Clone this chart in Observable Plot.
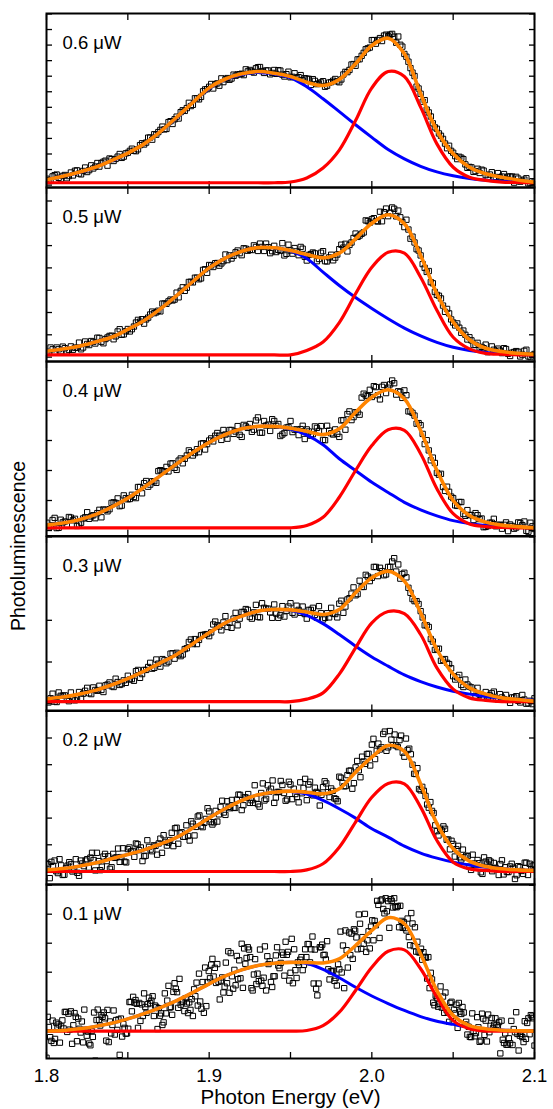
<!DOCTYPE html>
<html><head><meta charset="utf-8">
<script src="https://cdn.jsdelivr.net/npm/d3@7"></script>
<script src="https://cdn.jsdelivr.net/npm/@observablehq/plot@0.6"></script>
<style>
body{margin:0;background:#fff;}
#chart{position:relative;width:553px;height:1109px;overflow:hidden;font-family:"Liberation Sans",Arial,Helvetica,sans-serif;}
.panel{position:absolute;left:0;}
</style></head><body><div id="chart"></div>
<script>
// ---------- data ----------
const powerLabels = ["0.6 μW","0.5 μW","0.4 μW","0.3 μW","0.2 μW","0.1 μW"];
const curveEnergies = [1.80,1.81,1.82,1.83,1.84,1.85,1.86,1.87,1.88,1.89,1.90,1.91,1.92,1.93,1.94,1.95,1.96,1.97,1.98,1.99,2.00,2.01,2.02,2.03,2.04,2.05,2.06,2.07,2.08,2.09,2.10];
const xTicks = [1.8,1.85,1.9,1.95,2.0,2.05,2.1];
const xTickLabels = [1.8,1.9,2.0,2.1];

// broad (blue) component
const blue06 = [0.33,0.57,0.81,1.15,1.55,2.06,2.64,3.44,4.34,5.31,6.21,6.79,7.11,7.24,7.14,6.90,6.32,5.55,4.72,3.88,3.07,2.29,1.69,1.21,0.85,0.60,0.42,0.31,0.25,0.21,0.17];
const blue05 = [0.26,0.36,0.49,0.68,0.89,1.24,1.64,2.16,2.76,3.39,4.00,4.44,4.75,4.91,4.90,4.76,4.42,3.81,3.21,2.67,2.18,1.72,1.30,0.95,0.66,0.44,0.30,0.21,0.16,0.13,0.10];
const blue04 = [0.18,0.25,0.36,0.53,0.78,1.08,1.44,1.83,2.22,2.60,2.94,3.20,3.39,3.47,3.47,3.38,3.18,2.86,2.39,2.00,1.61,1.27,0.94,0.69,0.49,0.33,0.23,0.17,0.13,0.11,0.10];
const blue03 = [0.12,0.16,0.23,0.32,0.45,0.60,0.78,0.98,1.18,1.44,1.70,1.94,2.10,2.22,2.26,2.24,2.12,1.92,1.66,1.38,1.12,0.90,0.69,0.53,0.40,0.30,0.23,0.17,0.13,0.10,0.08];
const blue02 = [0.06,0.11,0.20,0.32,0.48,0.64,0.81,1.03,1.28,1.63,2.01,2.36,2.66,2.87,2.97,3.00,2.90,2.66,2.35,2.00,1.60,1.29,0.95,0.69,0.50,0.35,0.24,0.16,0.11,0.07,0.05];
const blue01 = [-0.03,-0.01,0.05,0.13,0.24,0.39,0.57,0.78,1.02,1.30,1.60,1.87,2.08,2.23,2.31,2.34,2.30,2.10,1.81,1.48,1.18,0.92,0.68,0.47,0.31,0.20,0.10,0.05,0.01,-0.01,-0.02];

// narrow (red) component
const red06 = [0.15,0.15,0.15,0.15,0.15,0.15,0.15,0.15,0.15,0.15,0.15,0.15,0.15,0.15,0.15,0.20,0.46,1.10,2.25,4.15,6.25,7.30,6.98,5.01,2.65,1.15,0.51,0.30,0.19,0.17,0.15];
const red05 = [0.10,0.10,0.10,0.10,0.10,0.10,0.10,0.10,0.10,0.10,0.10,0.10,0.10,0.10,0.10,0.10,0.30,0.68,1.55,2.84,4.03,4.70,4.66,3.58,2.10,0.89,0.37,0.17,0.13,0.10,0.10];
const red04 = [0.09,0.09,0.09,0.09,0.09,0.09,0.09,0.09,0.09,0.09,0.09,0.09,0.09,0.09,0.09,0.09,0.17,0.44,1.11,2.00,2.83,3.36,3.34,2.56,1.39,0.56,0.22,0.13,0.10,0.09,0.09];
const red03 = [0.05,0.05,0.05,0.05,0.05,0.05,0.05,0.05,0.05,0.05,0.05,0.05,0.05,0.05,0.05,0.05,0.11,0.26,0.71,1.34,1.94,2.21,2.16,1.66,0.86,0.35,0.14,0.08,0.05,0.05,0.05];
const red02 = [0.00,0.00,0.00,0.00,0.00,0.00,0.00,0.00,0.00,0.00,0.00,0.00,0.00,0.00,0.00,0.00,0.06,0.29,0.91,1.85,2.78,3.30,3.28,2.41,1.16,0.35,0.10,0.04,0.00,0.00,0.00];
const red01 = [-0.03,-0.03,-0.03,-0.03,-0.03,-0.03,-0.03,-0.03,-0.03,-0.03,-0.03,-0.03,-0.03,-0.03,-0.03,-0.03,-0.01,0.16,0.62,1.37,2.17,2.72,2.77,2.12,1.14,0.33,0.05,-0.03,-0.03,-0.03,-0.03];

// total fit (orange)
const orange06 = [0.34,0.57,0.83,1.15,1.58,2.06,2.65,3.44,4.36,5.31,6.25,6.82,7.15,7.30,7.19,6.98,6.61,6.40,6.79,7.80,8.97,9.44,8.44,5.87,3.51,2.01,1.15,0.73,0.51,0.33,0.19];
const orange05 = [0.26,0.36,0.49,0.68,0.89,1.24,1.64,2.16,2.76,3.39,4.00,4.44,4.75,4.91,4.90,4.78,4.60,4.45,4.66,5.30,6.00,6.38,5.98,4.56,2.84,1.57,0.78,0.40,0.25,0.17,0.12];
const orange04 = [0.18,0.25,0.36,0.53,0.78,1.08,1.44,1.83,2.22,2.60,2.94,3.20,3.39,3.47,3.47,3.41,3.31,3.20,3.39,3.94,4.44,4.69,4.39,3.33,2.00,1.00,0.50,0.28,0.18,0.13,0.09];
const orange03 = [0.12,0.16,0.23,0.32,0.45,0.60,0.78,0.98,1.18,1.44,1.70,1.94,2.10,2.22,2.26,2.25,2.20,2.14,2.26,2.66,3.02,3.18,2.94,2.18,1.30,0.71,0.38,0.23,0.14,0.10,0.06];
const orange02 = [0.06,0.11,0.20,0.32,0.48,0.64,0.81,1.03,1.28,1.63,2.01,2.36,2.66,2.87,2.97,3.01,2.97,2.91,3.10,3.72,4.28,4.72,4.50,3.28,1.79,0.85,0.39,0.19,0.10,0.06,0.04];
const orange01 = [-0.03,-0.01,0.05,0.13,0.24,0.39,0.57,0.78,1.02,1.30,1.60,1.87,2.08,2.23,2.31,2.34,2.34,2.32,2.46,2.92,3.44,3.88,3.67,2.63,1.37,0.51,0.16,0.05,0.00,-0.02,-0.03];

// measured spectra (open squares): series "a" starts at 1.80 eV, series "b" is offset by half a step
const pointSteps = [0.0025,0.0025,0.0025,0.0025,0.002,0.0015];
const pts06 = [0.41,0.27,0.64,0.47,0.59,0.44,0.81,0.92,0.74,0.91,
0.84,1.27,1.19,1.19,1.50,1.25,1.67,1.68,2.00,1.83,
2.08,2.34,2.18,2.57,2.61,3.05,2.92,3.24,3.55,3.58,
4.05,3.93,4.40,4.69,4.77,5.29,5.16,5.57,5.67,6.15,
6.32,6.21,6.54,6.86,6.80,6.77,7.10,7.11,7.16,7.44,
7.40,7.23,7.58,7.33,7.37,7.12,7.40,7.39,7.10,7.13,
6.93,7.19,6.94,6.73,6.84,6.44,6.70,6.53,6.68,6.39,
6.62,6.82,6.61,7.11,7.26,7.75,7.67,8.09,8.50,8.79,
9.32,9.09,9.45,9.61,9.57,9.72,9.15,9.02,8.43,7.93,
7.23,6.33,5.87,5.46,4.67,3.97,3.62,3.17,2.67,2.53,
2.08,1.67,1.76,1.33,1.17,0.85,1.05,0.99,0.64,0.68,
0.47,0.77,0.55,0.40,0.55,0.16,0.42,0.28,0.44,0.12,
0.21];
const pts06b = [0.32,0.56,0.68,0.39,0.65,0.58,0.62,0.95,0.69,1.13,
0.96,1.07,1.42,1.42,1.57,1.71,1.55,1.83,1.75,2.04,
2.20,2.21,2.30,2.69,2.73,3.06,3.27,3.41,3.76,3.61,
4.11,4.23,4.28,4.81,4.95,5.08,5.58,5.51,6.03,6.17,
6.50,6.48,6.39,6.62,6.88,6.85,7.03,7.13,7.07,7.31,
7.30,7.51,7.59,7.21,7.37,7.21,7.15,7.36,6.98,7.29,
6.96,6.90,7.07,6.87,6.83,6.81,6.49,6.60,6.32,6.59,
6.71,6.67,6.79,7.28,7.40,7.78,8.08,8.31,8.73,8.84,
9.32,9.33,9.26,9.67,9.67,9.54,9.55,8.90,8.25,7.52,
7.01,6.21,5.36,4.85,4.41,3.71,3.32,2.97,2.37,2.20,
1.86,1.82,1.67,1.11,1.14,0.90,0.78,0.93,0.52,0.83,
0.52,0.50,0.71,0.55,0.55,0.53,0.22,0.35,0.11,0.25];
const pts05 = [0.24,0.43,0.22,0.35,0.47,0.25,0.48,0.42,0.65,0.43,
0.59,0.72,0.61,0.86,0.62,0.88,0.96,0.93,1.25,1.02,
1.26,1.25,1.55,1.59,1.50,1.77,2.04,2.01,2.05,2.40,
2.50,2.54,2.89,2.97,2.97,3.37,3.35,3.56,3.53,3.94,
4.13,4.04,4.22,4.20,4.60,4.56,4.54,4.78,4.57,4.86,
4.81,5.01,4.76,4.94,5.09,4.66,4.99,4.81,5.11,4.63,
4.78,4.89,4.57,4.86,4.33,4.62,4.65,4.40,4.75,4.29,
4.59,4.46,4.84,4.91,4.74,5.14,5.54,5.45,5.59,6.10,
6.18,6.10,6.52,6.50,6.32,6.71,6.31,6.27,5.83,5.72,
5.40,4.84,4.56,4.00,3.86,3.31,2.79,2.63,2.03,1.96,
1.55,1.51,1.09,1.00,0.89,0.54,0.64,0.46,0.56,0.25,
0.33,0.38,0.18,0.36,0.05,0.23,0.24,0.11,0.33,0.00,
0.14];
const pts05b = [0.22,0.35,0.43,0.26,0.40,0.32,0.33,0.42,0.35,0.70,
0.54,0.68,0.87,0.69,0.81,0.95,0.80,1.15,1.00,1.16,
1.15,1.37,1.67,1.70,1.69,1.91,1.97,2.08,2.40,2.39,
2.58,2.58,2.68,3.13,3.11,3.38,3.56,3.49,3.91,3.78,
4.11,4.21,4.10,4.30,4.35,4.42,4.70,4.66,4.88,4.77,
4.80,4.94,5.09,4.76,4.93,4.75,4.71,4.77,4.56,5.04,
4.64,4.74,4.94,4.50,4.58,4.69,4.30,4.68,4.30,4.47,
4.34,4.60,5.04,5.08,5.03,5.34,5.39,5.53,6.13,6.03,
6.23,6.08,6.09,6.66,6.47,6.65,6.57,6.06,6.16,5.31,
5.14,4.78,4.17,3.82,3.36,2.92,2.75,2.31,2.16,1.69,
1.42,1.32,1.19,0.79,0.75,0.55,0.43,0.40,0.22,0.48,
0.24,0.29,0.40,0.15,0.20,0.27,0.03,0.28,0.03,0.09];
const pts04 = [0.26,0.14,0.42,0.09,0.27,0.18,0.43,0.39,0.20,0.40,
0.61,0.47,0.41,0.69,0.70,0.64,0.92,0.92,0.81,1.17,
1.04,1.19,1.08,1.45,1.58,1.46,1.64,1.59,2.01,1.97,
1.97,2.24,2.02,2.40,2.39,2.67,2.50,2.71,2.89,2.70,
3.00,2.97,3.25,3.02,3.20,3.35,3.22,3.48,3.12,3.47,
3.55,3.36,3.77,3.26,3.50,3.32,3.65,3.55,3.20,3.43,
3.65,3.36,3.18,3.49,3.37,3.16,3.47,3.32,3.02,3.49,
3.24,3.37,3.12,3.68,3.88,3.68,3.94,3.86,4.56,4.48,
4.45,4.78,4.37,4.85,4.76,5.00,4.53,4.62,4.67,3.97,
3.92,3.56,3.51,2.88,2.67,2.43,1.92,1.89,1.32,1.29,
1.08,0.82,0.95,0.49,0.52,0.35,0.51,0.40,0.12,0.26,
0.39,0.19,0.06,0.27,0.20,0.06,0.27,0.18,-0.01,0.26,
0.05];
const pts04b = [0.09,0.35,0.08,0.36,0.30,0.45,0.34,0.15,0.26,0.44,
0.39,0.51,0.58,0.44,0.69,0.71,0.94,1.07,0.83,1.08,
1.05,1.12,1.45,1.24,1.65,1.53,1.64,1.98,1.98,2.12,
2.23,2.09,2.33,2.24,2.50,2.61,2.58,2.61,2.91,2.88,
3.07,3.16,3.16,3.35,3.06,3.35,3.30,3.19,3.52,3.42,
3.29,3.67,3.26,3.65,3.53,3.71,3.49,3.15,3.25,3.45,
3.28,3.37,3.38,3.05,3.30,3.21,3.42,3.48,3.01,3.33,
3.20,3.22,3.67,3.36,3.97,3.78,3.94,4.43,4.50,4.69,
4.81,4.51,4.79,4.58,4.87,4.91,4.64,4.42,4.51,3.97,
3.83,3.58,3.22,3.01,2.34,2.25,1.86,1.45,1.46,1.13,
0.84,0.95,0.55,0.68,0.51,0.58,0.38,0.11,0.15,0.26,
0.14,0.19,0.19,-0.02,0.15,0.10,0.25,0.30,-0.04,0.14];
const pts03 = [0.07,0.13,0.05,0.27,0.19,0.14,0.27,0.08,0.28,0.24,
0.38,0.23,0.33,0.43,0.28,0.46,0.42,0.60,0.45,0.56,
0.67,0.59,0.78,0.62,0.81,0.88,0.84,1.06,0.89,1.04,
1.01,1.21,1.22,1.14,1.31,1.48,1.43,1.43,1.64,1.66,
1.62,1.90,1.88,1.76,2.10,1.94,2.04,1.88,2.20,2.27,
2.08,2.19,2.08,2.41,2.28,2.19,2.38,2.06,2.34,2.23,
2.41,2.14,2.25,2.33,2.04,2.25,2.13,2.34,2.02,2.17,
2.30,2.15,2.40,2.18,2.50,2.64,2.60,2.95,2.80,3.05,
3.02,3.28,3.26,3.08,3.28,3.41,3.17,3.00,3.14,2.78,
2.51,2.46,2.22,1.88,1.84,1.49,1.31,1.03,1.07,0.95,
0.66,0.63,0.45,0.58,0.41,0.30,0.38,0.14,0.28,0.20,
0.29,0.10,0.15,0.21,0.02,0.15,0.07,0.21,0.00,0.07,
0.13];
const pts03b = [0.03,0.24,0.04,0.19,0.20,0.06,0.14,0.13,0.14,0.31,
0.25,0.39,0.31,0.33,0.44,0.51,0.40,0.52,0.47,0.50,
0.58,0.55,0.81,0.71,0.81,0.98,0.86,0.96,1.07,0.97,
1.20,1.08,1.18,1.18,1.33,1.54,1.55,1.53,1.65,1.67,
1.71,1.97,1.85,1.95,1.84,1.82,2.18,2.04,2.20,2.25,
2.04,2.37,2.07,2.30,2.28,2.06,2.16,2.12,2.09,2.33,
2.18,2.35,2.18,2.15,2.25,2.30,2.06,2.17,2.06,2.07,
2.16,2.07,2.47,2.33,2.53,2.79,2.63,2.80,3.09,2.94,
3.28,3.06,3.18,3.10,3.28,3.49,3.34,3.11,3.03,2.66,
2.46,2.39,2.07,1.88,1.55,1.29,1.32,1.05,0.98,0.85,
0.58,0.69,0.40,0.46,0.39,0.19,0.22,0.16,0.12,0.25,
0.13,0.23,0.11,0.09,0.15,0.18,0.03,0.10,0.01,-0.01];
const pts02 = [0.30,-0.25,0.20,0.01,0.46,-0.13,0.13,0.35,0.00,0.46,
-0.16,0.30,0.41,0.15,0.70,0.04,0.39,0.18,0.66,0.57,
0.16,0.51,0.86,0.54,0.37,0.84,0.75,0.55,1.02,0.90,
0.57,1.17,0.82,0.98,0.63,1.23,1.36,0.97,1.18,0.95,
1.64,1.43,1.30,1.73,1.16,1.79,1.67,2.10,1.66,1.97,
2.25,1.76,2.27,2.14,2.65,2.12,2.42,2.68,2.38,2.88,
2.30,2.78,2.90,2.67,3.23,2.52,2.94,2.66,3.23,3.10,
2.57,2.98,3.39,2.94,2.70,3.26,3.10,2.79,3.34,3.13,
2.67,3.36,2.85,2.98,2.47,3.16,3.30,2.79,3.02,2.71,
3.55,3.32,3.20,3.77,3.10,3.90,3.79,4.30,4.03,4.41,
4.75,4.21,4.79,4.65,5.24,4.65,4.94,5.13,4.66,5.09,
4.30,4.55,4.39,3.66,3.87,3.04,3.02,2.51,2.60,2.19,
1.51,1.60,1.69,1.19,0.83,1.03,0.83,0.53,0.82,0.59,
0.18,0.63,0.24,0.31,-0.09,0.37,0.42,0.01,0.14,-0.13,
0.42,0.16,-0.02,0.29,-0.28,0.20,0.02,0.33,-0.13,0.08,
0.25];
const pts02b = [0.27,0.36,0.41,-0.06,0.23,-0.12,0.22,0.28,0.05,-0.05,
0.41,0.20,0.46,0.52,0.43,0.70,0.05,0.56,0.39,0.10,
0.66,0.53,0.36,0.87,0.34,0.90,0.77,1.05,0.80,0.39,
0.59,0.92,0.76,0.96,1.05,0.70,1.11,1.08,1.45,1.62,
1.04,1.47,1.30,1.33,1.88,1.35,2.06,1.70,1.82,2.37,
1.85,1.84,1.87,2.42,2.21,2.63,2.37,2.39,2.69,2.87,
2.48,2.76,2.57,2.57,2.73,2.43,3.30,2.72,2.99,3.41,
2.77,2.98,3.24,2.65,3.36,2.71,2.90,2.59,2.93,3.47,
3.26,2.90,3.14,2.93,2.87,3.38,2.97,3.11,2.74,2.63,
3.51,3.19,3.61,3.78,3.31,4.14,3.53,4.12,4.40,3.97,
4.97,4.52,4.57,5.15,4.52,5.26,4.73,4.72,4.92,4.45,
4.98,4.60,4.00,3.65,3.09,3.17,2.83,2.39,2.27,1.73,
1.35,1.54,1.60,1.20,1.15,0.56,0.96,0.45,0.53,0.58,
0.06,0.30,0.43,-0.03,0.53,0.29,0.37,0.32,0.09,0.28,
-0.11,-0.02,0.19,0.14,-0.14,0.16,-0.09,0.33,0.29,0.22];
const pts01 = [-0.95,0.11,-0.37,-0.44,0.26,0.20,0.13,0.06,0.63,0.57,
0.65,0.17,0.46,0.40,-0.08,-0.42,0.01,-0.05,-0.52,-0.23,
-1.05,0.71,0.16,0.46,0.41,0.70,0.30,0.18,-0.15,0.01,
-0.85,-0.22,0.08,-0.11,0.97,0.65,0.95,0.91,0.94,0.89,
1.27,0.60,1.12,1.02,0.49,0.80,0.76,0.58,0.27,0.58,
1.53,0.80,1.32,1.43,0.77,0.88,0.99,1.10,0.59,0.70,
0.49,1.17,0.85,0.99,1.66,2.16,1.66,1.79,2.46,2.15,
2.28,1.06,1.82,1.50,1.62,1.29,1.86,2.08,2.56,2.41,
2.98,2.82,2.49,2.78,1.45,1.92,1.59,1.69,1.71,1.81,
1.37,2.28,1.66,1.86,2.58,2.23,2.32,2.60,3.05,2.70,
1.98,1.62,2.07,2.34,2.43,2.07,2.79,2.97,2.34,3.23,
2.78,1.20,2.86,2.95,2.60,3.07,1.75,2.04,1.70,1.54,
2.10,1.99,1.45,2.76,3.37,3.33,3.48,3.20,3.99,2.81,
2.98,2.70,3.41,3.57,3.10,3.62,4.32,4.47,4.18,4.55,
4.45,4.52,4.23,4.26,4.28,4.29,3.53,3.52,3.85,2.93,
3.68,3.55,3.05,2.68,2.43,2.53,1.78,1.45,1.75,0.86,
1.10,0.91,0.78,0.60,0.69,0.29,0.98,0.71,0.88,0.94,
0.56,0.61,0.29,0.12,-0.24,-0.03,-0.10,0.10,-0.36,0.40,
0.33,0.54,0.15,0.08,0.41,0.12,-0.80,-0.33,-0.11,-0.50,
-0.45,-0.51,-0.07,-0.13,-0.19,-0.24,0.31,0.25,-0.14,0.47,
-0.53];
const pts01b = [0.46,-0.24,0.33,-0.30,0.12,-0.43,0.34,0.63,-0.06,0.02,
-0.47,0.59,-0.38,0.05,0.30,0.71,-0.19,-0.46,-0.03,0.61,
0.35,0.36,0.52,0.61,-0.36,-0.41,-0.11,0.68,0.35,0.37,
0.40,0.21,-0.12,0.05,0.98,1.15,1.04,0.08,0.32,0.49,
0.80,0.90,0.93,1.17,0.85,0.04,0.50,0.18,1.27,1.02,
0.78,0.53,1.62,1.31,1.77,0.97,0.66,0.92,0.96,1.07,
1.41,1.64,1.95,0.74,0.60,0.83,2.04,2.26,1.85,1.63,
1.67,1.71,1.30,2.33,2.72,2.66,1.43,1.55,1.76,1.79,
1.46,2.29,2.86,2.52,1.37,2.45,1.95,2.78,1.53,2.89,
2.55,2.38,1.49,1.86,2.86,2.14,2.68,1.88,2.60,1.71,
3.15,2.79,1.80,2.25,2.52,2.25,2.52,2.97,2.79,1.61,
1.43,1.61,2.86,2.59,2.44,2.10,2.03,2.05,1.80,2.27,
3.40,2.92,3.44,2.16,2.59,2.46,3.43,2.79,3.67,3.21,
4.01,3.10,2.82,3.79,3.77,4.46,3.18,4.51,4.03,4.10,
3.53,4.46,4.55,4.24,3.55,3.77,3.72,3.44,3.21,4.04,
2.90,2.71,2.69,2.81,2.69,2.50,2.52,1.98,0.95,1.19,
0.81,1.51,1.16,1.30,0.62,0.94,0.31,0.58,0.08,0.64,
0.80,0.20,-0.15,-0.23,0.58,-0.21,0.45,-0.40,0.57,-0.16,
-0.39,-0.07,0.42,0.19,0.18,0.28,0.33,-0.44,-0.50,-0.28,
0.32,0.04,0.62,-0.70,-0.13,-0.41,-0.30,0.41,0.52,0.41];

const yTicks06 = [0,1,2,3,4,5,6,7,8,9,10,11];
const yTicks05 = [0,1,2,3,4,5,6,7];
const yTicks04 = [0,1,2,3,4,5];
const yTicks03 = [0,1,2,3,4];
const yTicks02 = [0,1,2,3,4,5,6];
const yTicks01 = [0,1,2,3,4,5];

// ---------- build ----------
const panels = [
  {label: powerLabels[0], a: pts06, b: pts06b, blue: blue06, red: red06, orange: orange06, ticks: yTicks06, domain: [-0.154, 11.03]},
  {label: powerLabels[1], a: pts05, b: pts05b, blue: blue05, red: red05, orange: orange05, ticks: yTicks05, domain: [-0.197, 7.605]},
  {label: powerLabels[2], a: pts04, b: pts04b, blue: blue04, red: red04, orange: orange04, ticks: yTicks04, domain: [-0.183, 5.633]},
  {label: powerLabels[3], a: pts03, b: pts03b, blue: blue03, red: red03, orange: orange03, ticks: yTicks03, domain: [-0.175, 4.010]},
  {label: powerLabels[4], a: pts02, b: pts02b, blue: blue02, red: red02, orange: orange02, ticks: yTicks02, domain: [-0.487, 6.03]},
  {label: powerLabels[5], a: pts01, b: pts01b, blue: blue01, red: red01, orange: orange01, ticks: yTicks01, domain: [-0.976, 5.024]}
];
const tops = [13, 187, 361, 535.5, 710, 884];
const bottoms = [187, 361, 535.5, 710, 884, 1058];
const pad = 4;
const FONT = "Liberation Sans, Arial, Helvetica, sans-serif";
const chart = document.getElementById("chart");

panels.forEach((p, k) => {
  const isLast = k === panels.length - 1;
  const mb = isLast ? 1109 - bottoms[k] : pad;
  const h = bottoms[k] - tops[k] + pad + mb;
  const step = pointSteps[k];
  const dots = p.a.map((v, i) => ({energy: 1.8 + i * step, pl: v}))
    .concat(p.b.map((v, i) => ({energy: 1.8 + (i + 0.5) * step, pl: v})));
  const curve = arr => curveEnergies.map((e, i) => ({energy: e, pl: arr[i]}));
  const blank = () => "";
  const tickOpts = {tickFormat: blank, label: null, tickSize: 6, strokeWidth: 1.3};
  const marks = [
    Plot.axisX({...tickOpts, anchor: "top", ticks: xTicks, dy: 6}),
    Plot.axisX({...tickOpts, anchor: "bottom", ticks: xTicks, dy: -6}),
    Plot.axisY({...tickOpts, anchor: "left", ticks: p.ticks, dx: 6}),
    Plot.axisY({...tickOpts, anchor: "right", ticks: p.ticks, dx: -6}),
    Plot.dot(dots, {x: "energy", y: "pl", symbol: "square", r: 3, stroke: "#000", strokeWidth: 1, fill: "none", clip: true}),
    Plot.line(curve(p.blue), {x: "energy", y: "pl", stroke: "#0000ff", strokeWidth: 3, curve: "catmull-rom", clip: true}),
    Plot.line(curve(p.red), {x: "energy", y: "pl", stroke: "#ff0000", strokeWidth: 3.2, curve: "catmull-rom", clip: true}),
    Plot.line(curve(p.orange), {x: "energy", y: "pl", stroke: "#ff8400", strokeWidth: 3.6, curve: "catmull-rom", clip: true}),
    Plot.frame({stroke: "#000", strokeWidth: 2}),
    Plot.text([p.label], {frameAnchor: "top-left", dx: 16, dy: 35.3, text: d => d, fontSize: 18.5, textAnchor: "start", lineAnchor: "bottom", fill: "#000"})
  ];
  if (isLast) {
    marks.push(Plot.axisX({anchor: "bottom", ticks: xTickLabels, tickSize: 0, tickPadding: 10, fontSize: 18.5, label: null, tickFormat: d3.format(".1f"), fill: "#000"}));
    marks.push(Plot.text(["Photon Energy (eV)"], {frameAnchor: "bottom", dy: 45.5, text: d => d, fontSize: 20.5, textAnchor: "middle", lineAnchor: "bottom", fill: "#000"}));
  }
  const svg = Plot.plot({
    width: 553, height: h,
    marginLeft: 46, marginRight: 19, marginTop: pad, marginBottom: mb,
    style: {background: "transparent", overflow: "visible", fontFamily: FONT},
    x: {domain: [1.8, 2.1]},
    y: {domain: p.domain},
    marks
  });
  const div = document.createElement("div");
  div.className = "panel";
  div.style.top = (tops[k] - pad) + "px";
  div.appendChild(svg);
  chart.appendChild(div);
});

// shared y-axis title
const ns = "http://www.w3.org/2000/svg";
const ov = document.createElementNS(ns, "svg");
ov.setAttribute("width", 553); ov.setAttribute("height", 1109);
ov.style.position = "absolute"; ov.style.left = "0"; ov.style.top = "0"; ov.style.pointerEvents = "none";
const yt = document.createElementNS(ns, "text");
yt.setAttribute("transform", "translate(25,546) rotate(-90)");
yt.setAttribute("text-anchor", "middle");
yt.setAttribute("font-size", "19.5");
yt.setAttribute("font-family", FONT);
yt.setAttribute("fill", "#000");
yt.textContent = "Photoluminescence";
ov.appendChild(yt);
chart.appendChild(ov);
</script></body></html>
